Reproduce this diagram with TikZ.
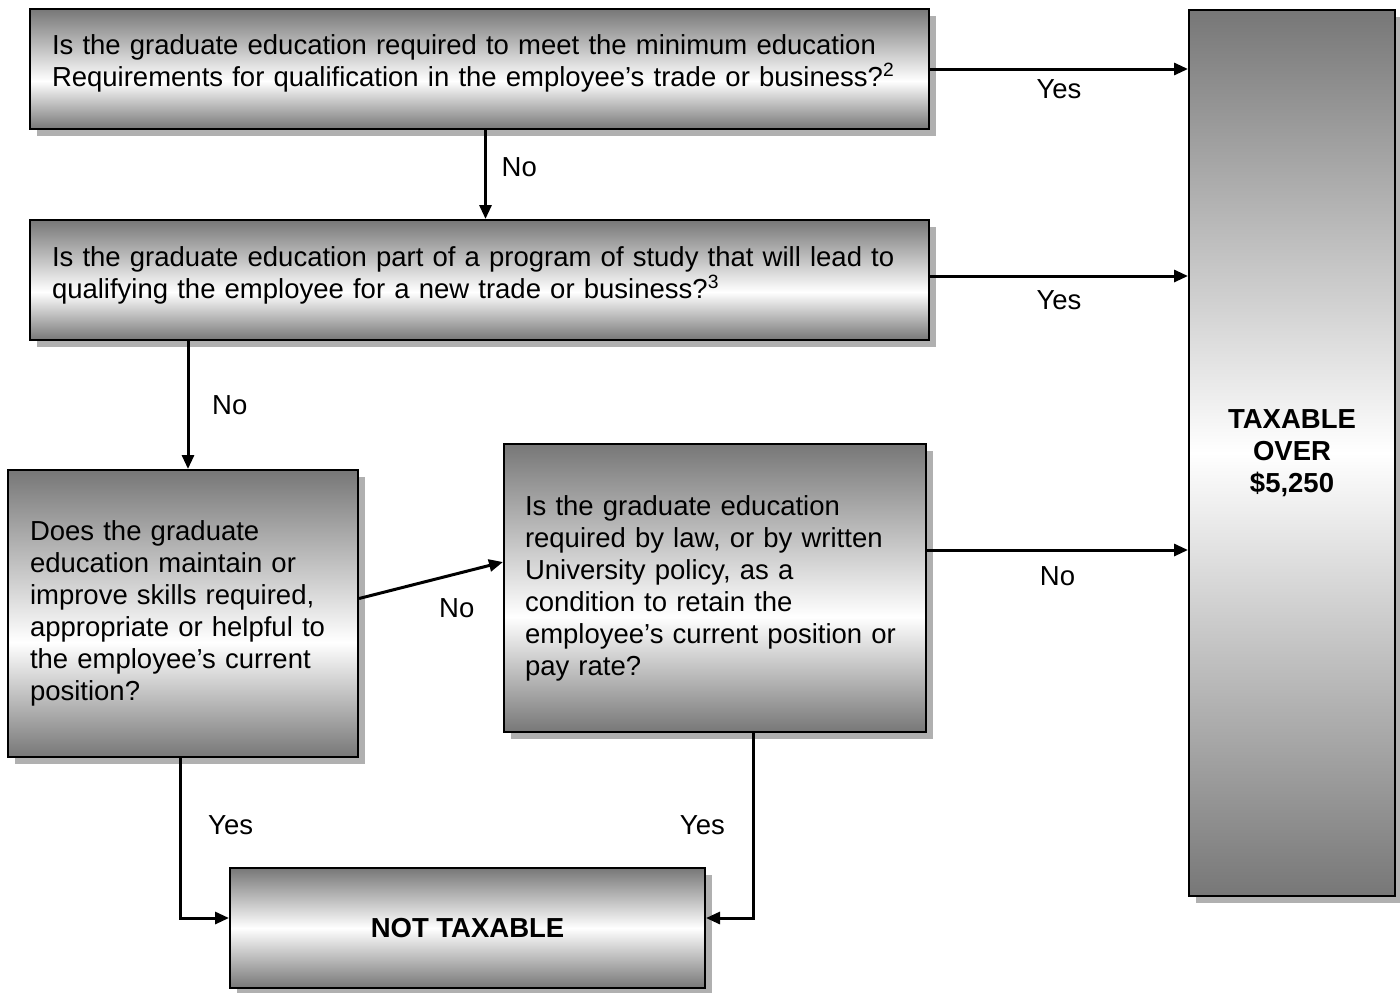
\documentclass[tikz,border=0pt]{standalone}
\usepackage{fontspec}
\setmainfont{Liberation Sans}
\usepackage{tikz}
\usetikzlibrary{arrows.meta, positioning, calc, shadows}
\definecolor{boxgray}{RGB}{119, 119, 119}
\definecolor{shadowgray}{RGB}{176, 176, 176}
\pgfdeclareverticalshading{qshade}{100bp}{color(0bp)=(boxgray); color(25bp)=(boxgray);
  color(45bp)=(white); color(75bp)=(boxgray); color(100bp)=(boxgray)}
\pgfdeclareverticalshading{mshade}{100bp}{color(0bp)=(boxgray); color(25bp)=(boxgray);
  color(50bp)=(white); color(75bp)=(boxgray); color(100bp)=(boxgray)}
\begin{document}
\begin{tikzpicture}[x=0.5pt, y=-0.5pt,
  font=\fontsize{13.75pt}{16pt}\selectfont,
  qbox/.style={draw, line width=1pt, shading=qshade, inner xsep=11pt, align=left,
               drop shadow={shadow xshift=3.5pt, shadow yshift=-3.5pt, fill=shadowgray, opacity=1}},
  rbox/.style={qbox, shading=mshade, align=center, font=\fontsize{13.75pt}{16pt}\selectfont\bfseries},
  arr/.style={-{Triangle[length=7pt, width=6pt]}, line width=1.5pt},
]
\useasboundingbox (0,0) rectangle (1400,992);

% Questions
\node[qbox, minimum width=449.5pt, minimum height=60pt, text width=427.5pt, text depth=24pt] (q1) at (479.5, 69)
{\mbox{Is the graduate education required to meet the minimum education}\\
\mbox{Requirements for qualification in the employee’s trade or business?\textsuperscript{2}}};
\node[qbox, minimum width=449.5pt, minimum height=60pt, text width=427.5pt, text depth=23pt] (q2) at (479.5, 280)
{\mbox{Is the graduate education part of a program of study that will lead to}\\
\mbox{qualifying the employee for a new trade or business?\textsuperscript{3}}};
\node[qbox, minimum width=175pt, minimum height=143.5pt, text width=153pt] (q3) at (183, 613.5)
{Does the graduate\\ education maintain or\\ improve skills required,\\
appropriate or helpful to\\ the employee’s current\\ position?};
\node[qbox, minimum width=211pt, minimum height=144pt, text width=190pt, inner xsep=10.5pt] (q4) at (715, 588)
{Is the graduate education\\ required by law, or by written\\ University policy, as a\\
condition to retain the\\ employee’s current position or\\ pay rate?};

% Results
\node[rbox, minimum width=237.5pt, minimum height=60pt] (nottax) at (467.5, 928) {NOT TAXABLE};
\node[rbox, minimum width=103pt, minimum height=443pt] (tax) at (1292, 453) {TAXABLE\\ OVER\\ \$5,250};

% Yes / No
\draw[arr] (q1.east) -- (q1.east -| tax.west) node[midway, below=1pt] {Yes};
\draw[arr] ([xshift=3pt]q1.south) -- ([xshift=3pt]q2.north) node[pos=0.42, right=4pt] {No};
\draw[arr] ([yshift=2pt]q2.east) -- ([yshift=2pt]q2.east -| tax.west) node[midway, below=3pt] {Yes};
\draw[arr] ([xshift=2.5pt]q3.north |- q2.south) -- ([xshift=2.5pt]q3.north) node[midway, right=8pt] {No};
\draw[arr] ([yshift=7.5pt]q3.east) -- ([yshift=13pt]q4.west) node[midway, below right=5pt and 0pt] {No};
\draw[arr] ([yshift=19pt]q4.east) coordinate (q4out) -- (q4out -| tax.west) node[midway, below=4pt] {No};
\draw[arr] ([xshift=-1.5pt]q3.south) |- ([yshift=5pt]nottax.west) node[pos=0.21, right=10pt] {Yes};
\draw[arr] ([xshift=19pt]q4.south) |- ([yshift=5pt]nottax.east) node[pos=0.25, left=10pt] {Yes};
\end{tikzpicture}
\end{document}
